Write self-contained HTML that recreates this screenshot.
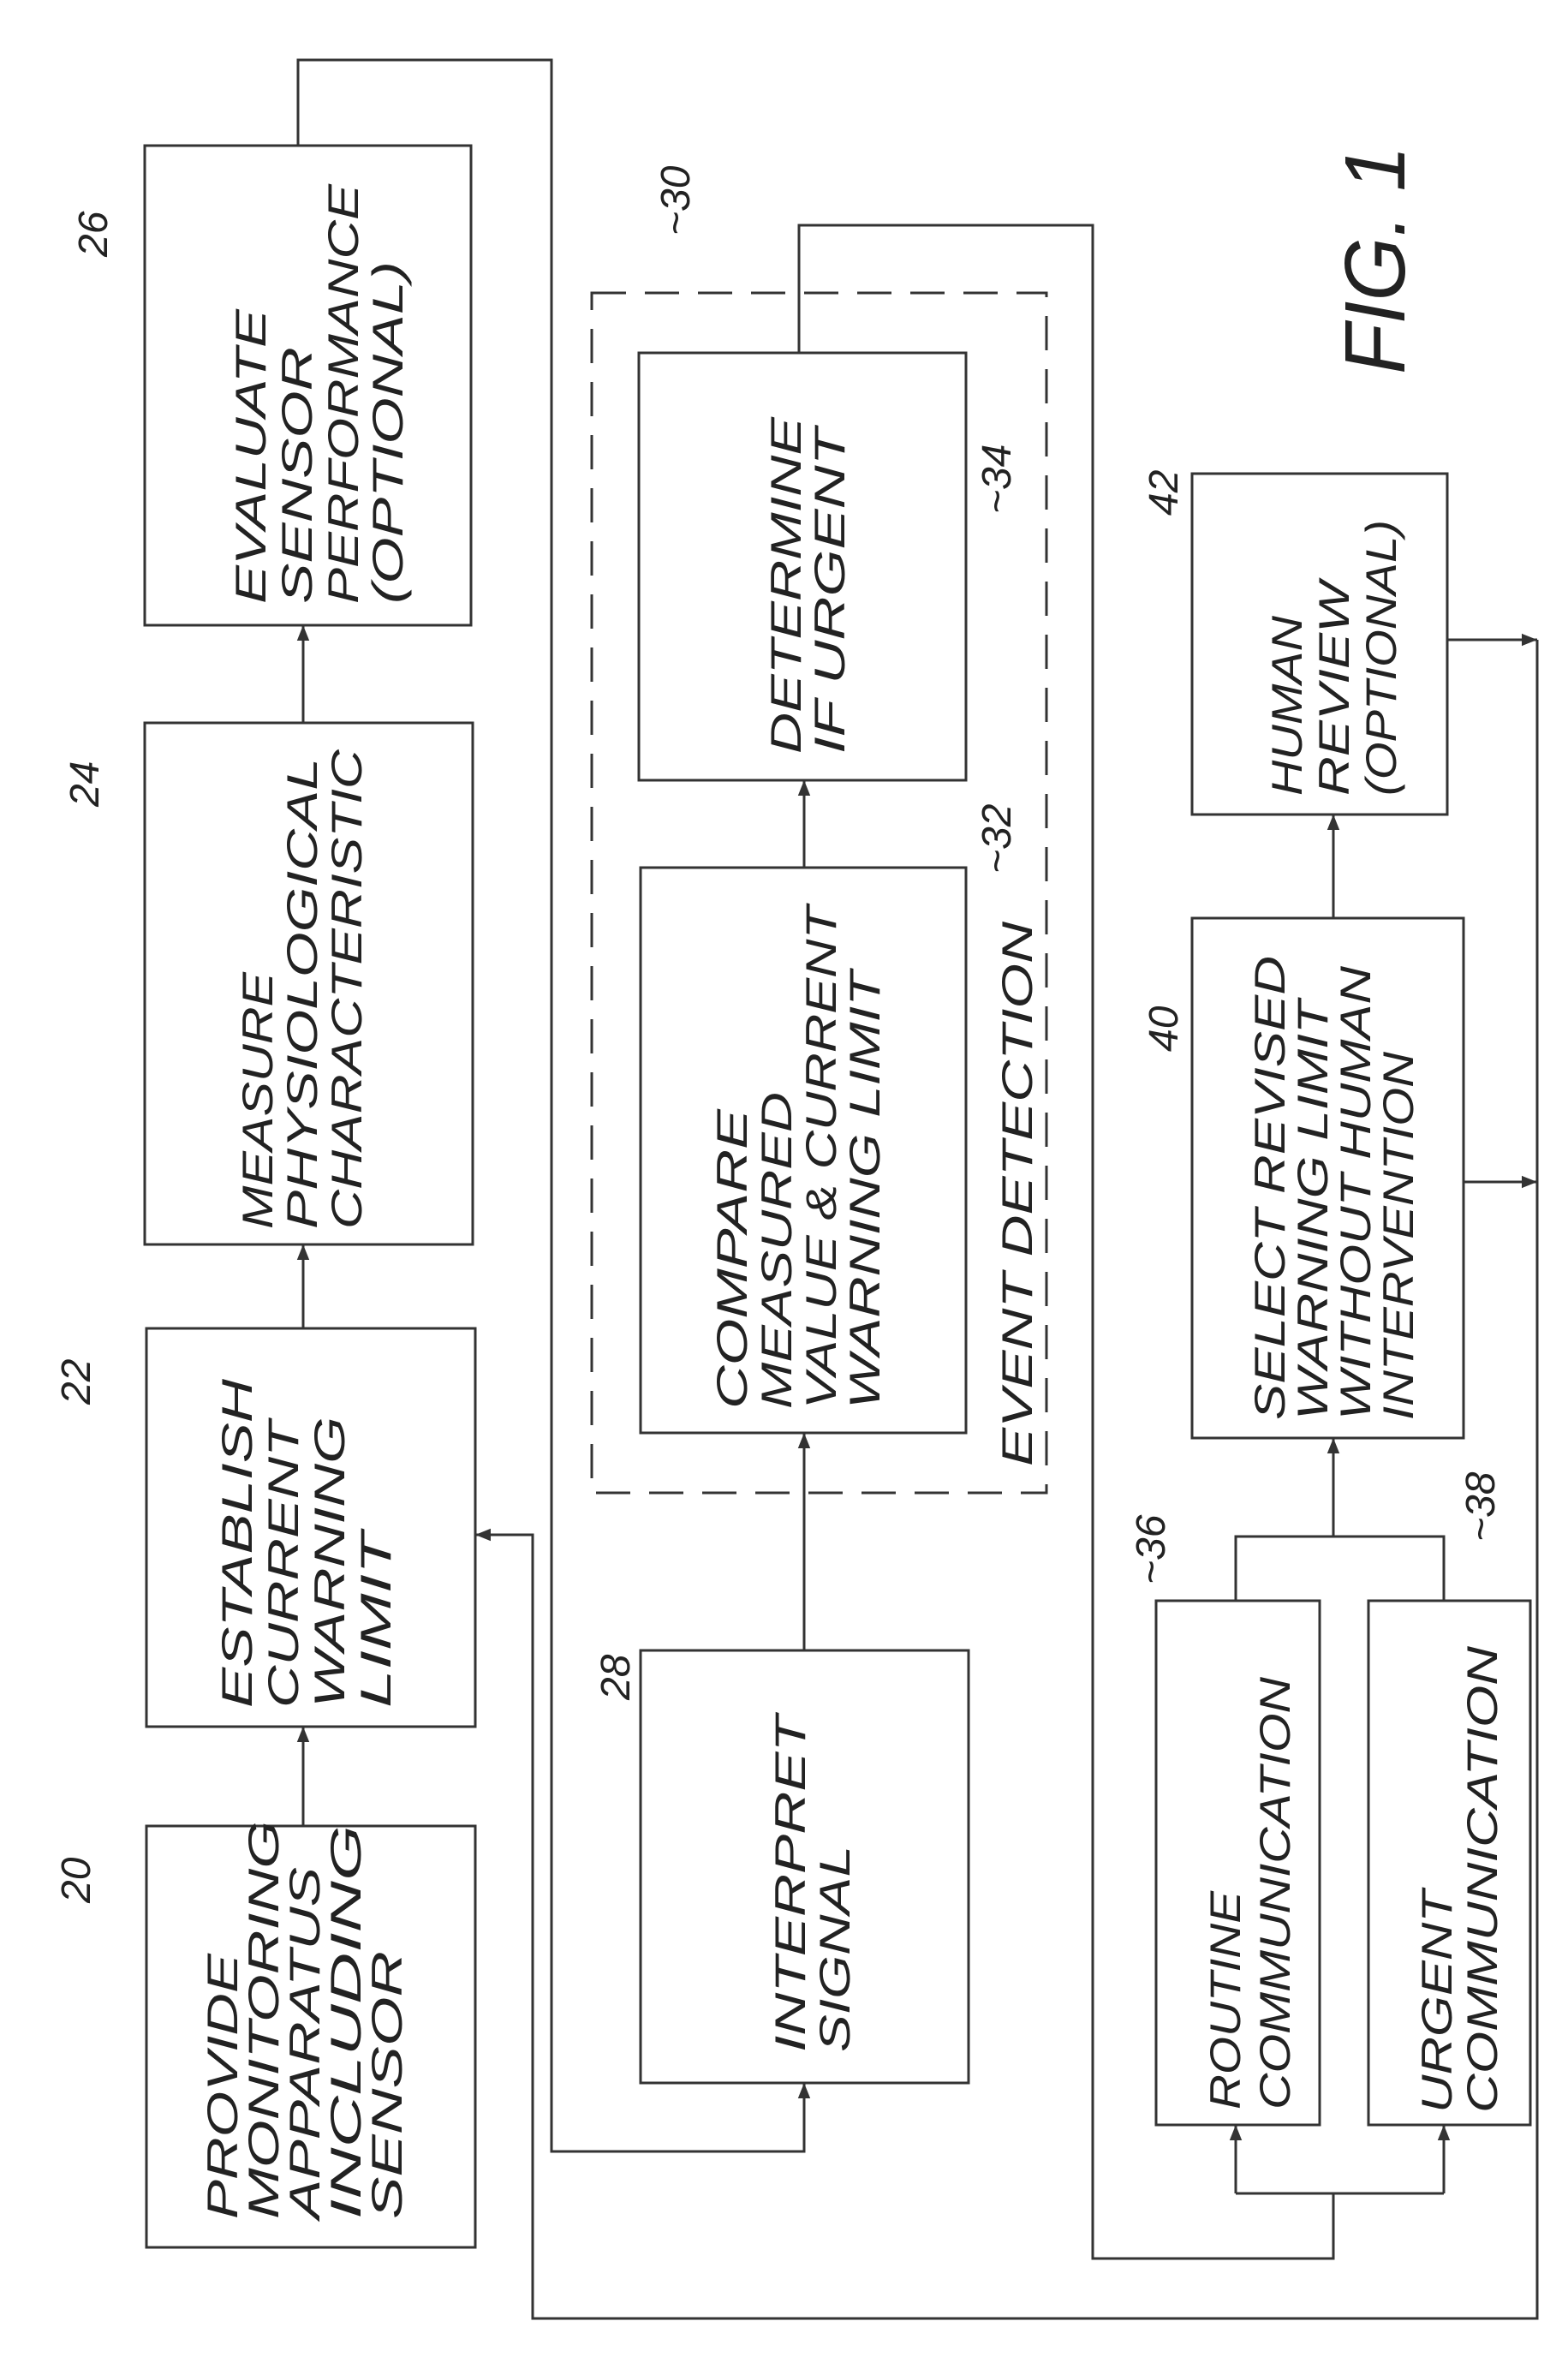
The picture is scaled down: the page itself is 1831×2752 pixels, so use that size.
<!DOCTYPE html>
<html><head><meta charset="utf-8"><style>
html,body{margin:0;padding:0;background:#fff;}
svg{display:block;}
text{font-family:"Liberation Sans",sans-serif;font-style:italic;fill:#222;}
</style></head><body>
<svg width="1831" height="2752" viewBox="0 0 1831 2752" xmlns="http://www.w3.org/2000/svg">
<defs>
<marker id="a" viewBox="0 0 10 10" refX="10" refY="5" markerWidth="7" markerHeight="7" orient="auto-start-reverse" markerUnits="userSpaceOnUse" >
<path d="M0,0 L10,5 L0,10 z" fill="#333"/></marker>
<marker id="b" viewBox="0 0 10 10" refX="10" refY="5" markerWidth="18" markerHeight="18" orient="auto" markerUnits="userSpaceOnUse">
<path d="M0,1 L10,5 L0,9 z" fill="#333"/></marker>
</defs>
<g fill="none" stroke="#333" stroke-width="3">
<!-- boxes -->
<rect x="169" y="170" width="381" height="560"/>
<rect x="169" y="844" width="383" height="609"/>
<rect x="171" y="1551" width="384" height="465"/>
<rect x="171" y="2132" width="384" height="492"/>
<rect x="746" y="412" width="382" height="499"/>
<rect x="748" y="1013" width="380" height="660"/>
<rect x="748" y="1927" width="383" height="505"/>
<rect x="1392" y="553" width="298" height="398"/>
<rect x="1392" y="1072" width="317" height="607"/>
<rect x="1350" y="1869" width="191" height="612"/>
<rect x="1598" y="1869" width="189" height="612"/>
<rect x="691" y="342" width="531" height="1401" stroke-dasharray="40,22"/>
<!-- arrows column 1 -->
<line x1="354" y1="2132" x2="354" y2="2016" marker-end="url(#b)"/>
<line x1="354" y1="1551" x2="354" y2="1453" marker-end="url(#b)"/>
<line x1="354" y1="844" x2="354" y2="730" marker-end="url(#b)"/>
<!-- loop from 26 to 28 -->
<polyline points="348,170 348,70 644,70 644,2512 939,2512 939,2432" marker-end="url(#b)"/>
<line x1="939" y1="1927" x2="939" y2="1673" marker-end="url(#b)"/>
<line x1="939" y1="1013" x2="939" y2="911" marker-end="url(#b)"/>
<!-- from 34 to communications -->
<polyline points="933,412 933,263 1276,263 1276,2637 1557,2637 1557,2561"/>
<polyline points="1443,2561 1686,2561" />
<line x1="1443" y1="2561" x2="1443" y2="2481" marker-end="url(#b)"/>
<line x1="1686" y1="2561" x2="1686" y2="2481" marker-end="url(#b)"/>
<polyline points="1443,1869 1443,1794 1686,1794 1686,1869"/>
<line x1="1557" y1="1794" x2="1557" y2="1679" marker-end="url(#b)"/>
<line x1="1557" y1="1072" x2="1557" y2="951" marker-end="url(#b)"/>
<!-- right side feedback -->
<line x1="1690" y1="747" x2="1795" y2="747" marker-end="url(#b)"/>
<line x1="1709" y1="1380" x2="1795" y2="1380" marker-end="url(#b)"/>
<polyline points="1795,747 1795,2707 622,2707 622,1792 555,1792" marker-end="url(#b)"/>
</g>
<g font-size="50">
<!-- box 20 -->
<text transform="translate(277,2591) rotate(-90)" textLength="310" lengthAdjust="spacingAndGlyphs">PROVIDE</text>
<text transform="translate(325,2591) rotate(-90)" textLength="465" lengthAdjust="spacingAndGlyphs">MONITORING</text>
<text transform="translate(373,2591) rotate(-90)" textLength="411" lengthAdjust="spacingAndGlyphs">APPARATUS</text>
<text transform="translate(421,2591) rotate(-90)" textLength="460" lengthAdjust="spacingAndGlyphs">INCLUDING</text>
<text transform="translate(469,2591) rotate(-90)" textLength="313" lengthAdjust="spacingAndGlyphs">SENSOR</text>
<!-- box 22 -->
<text transform="translate(294,1994) rotate(-90)" textLength="384" lengthAdjust="spacingAndGlyphs">ESTABLISH</text>
<text transform="translate(348,1994) rotate(-90)" textLength="335" lengthAdjust="spacingAndGlyphs">CURRENT</text>
<text transform="translate(402,1994) rotate(-90)" textLength="340" lengthAdjust="spacingAndGlyphs">WARNING</text>
<text transform="translate(456,1994) rotate(-90)" textLength="205" lengthAdjust="spacingAndGlyphs">LIMIT</text>
<!-- box 24 -->
<text transform="translate(318,1435) rotate(-90)" textLength="300" lengthAdjust="spacingAndGlyphs">MEASURE</text>
<text transform="translate(370,1435) rotate(-90)" textLength="550" lengthAdjust="spacingAndGlyphs">PHYSIOLOGICAL</text>
<text transform="translate(422,1435) rotate(-90)" textLength="560" lengthAdjust="spacingAndGlyphs">CHARACTERISTIC</text>
<!-- box 26 -->
<text transform="translate(310,705) rotate(-90)" textLength="344" lengthAdjust="spacingAndGlyphs">EVALUATE</text>
<text transform="translate(364,705) rotate(-90)" textLength="300" lengthAdjust="spacingAndGlyphs">SENSOR</text>
<text transform="translate(418,705) rotate(-90)" textLength="490" lengthAdjust="spacingAndGlyphs">PERFORMANCE</text>
<text transform="translate(470,705) rotate(-90)" textLength="400" lengthAdjust="spacingAndGlyphs">(OPTIONAL)</text>
<!-- box 34 -->
<text transform="translate(935,880) rotate(-90)" textLength="393" lengthAdjust="spacingAndGlyphs">DETERMINE</text>
<text transform="translate(986,880) rotate(-90)" textLength="380" lengthAdjust="spacingAndGlyphs">IF URGENT</text>
<!-- box 32 -->
<text transform="translate(872,1645) rotate(-90)" textLength="350" lengthAdjust="spacingAndGlyphs">COMPARE</text>
<text transform="translate(924,1645) rotate(-90)" textLength="370" lengthAdjust="spacingAndGlyphs">MEASURED</text>
<text transform="translate(976,1645) rotate(-90)" textLength="587" lengthAdjust="spacingAndGlyphs">VALUE &amp; CURRENT</text>
<text transform="translate(1027,1645) rotate(-90)" textLength="511" lengthAdjust="spacingAndGlyphs">WARNING LIMIT</text>
<!-- event detection -->
<text transform="translate(1205,1712) rotate(-90)" textLength="636" lengthAdjust="spacingAndGlyphs">EVENT  DETECTION</text>
<!-- box 28 -->
<text transform="translate(940,2396) rotate(-90)" textLength="393" lengthAdjust="spacingAndGlyphs">INTERPRET</text>
<text transform="translate(992,2396) rotate(-90)" textLength="241" lengthAdjust="spacingAndGlyphs">SIGNAL</text>
<!-- box 36 -->
<text transform="translate(1448,2463) rotate(-90)" textLength="255" lengthAdjust="spacingAndGlyphs">ROUTINE</text>
<text transform="translate(1506,2463) rotate(-90)" textLength="505" lengthAdjust="spacingAndGlyphs">COMMUNICATION</text>
<!-- box 38 -->
<text transform="translate(1695,2467) rotate(-90)" textLength="260" lengthAdjust="spacingAndGlyphs">URGENT</text>
<text transform="translate(1748,2467) rotate(-90)" textLength="545" lengthAdjust="spacingAndGlyphs">COMMUNICATION</text>
<!-- box 40 -->
<text transform="translate(1500,1658) rotate(-90)" textLength="542" lengthAdjust="spacingAndGlyphs">SELECT REVISED</text>
<text transform="translate(1550,1658) rotate(-90)" textLength="490" lengthAdjust="spacingAndGlyphs">WARNING LIMIT</text>
<text transform="translate(1600,1658) rotate(-90)" textLength="530" lengthAdjust="spacingAndGlyphs">WITHOUT HUMAN</text>
<text transform="translate(1650,1658) rotate(-90)" textLength="430" lengthAdjust="spacingAndGlyphs">INTERVENTION</text>
<!-- box 42 -->
<text transform="translate(1520,929) rotate(-90)" textLength="210" lengthAdjust="spacingAndGlyphs">HUMAN</text>
<text transform="translate(1575,929) rotate(-90)" textLength="250" lengthAdjust="spacingAndGlyphs">REVIEW</text>
<text transform="translate(1630,929) rotate(-90)" textLength="322" lengthAdjust="spacingAndGlyphs">(OPTIONAL)</text>
</g>
<!-- reference numerals -->
<g font-size="48">
<text transform="translate(125,300) rotate(-90)">26</text>
<text transform="translate(115,942) rotate(-90)">24</text>
<text transform="translate(105,1640) rotate(-90)">22</text>
<text transform="translate(105,2222) rotate(-90)">20</text>
<text transform="translate(735,1985) rotate(-90)">28</text>
<text transform="translate(805,275) rotate(-90)">~30</text>
<text transform="translate(1180,600) rotate(-90)">~34</text>
<text transform="translate(1180,1020) rotate(-90)">~32</text>
<text transform="translate(1375,602) rotate(-90)">42</text>
<text transform="translate(1375,1228) rotate(-90)">40</text>
<text transform="translate(1360,1850) rotate(-90)">~36</text>
<text transform="translate(1745,1800) rotate(-90)">~38</text>
</g>
<text transform="translate(1640,437) rotate(-90)" font-size="100" textLength="267" lengthAdjust="spacingAndGlyphs">FIG. 1</text>
</svg>
</body></html>
